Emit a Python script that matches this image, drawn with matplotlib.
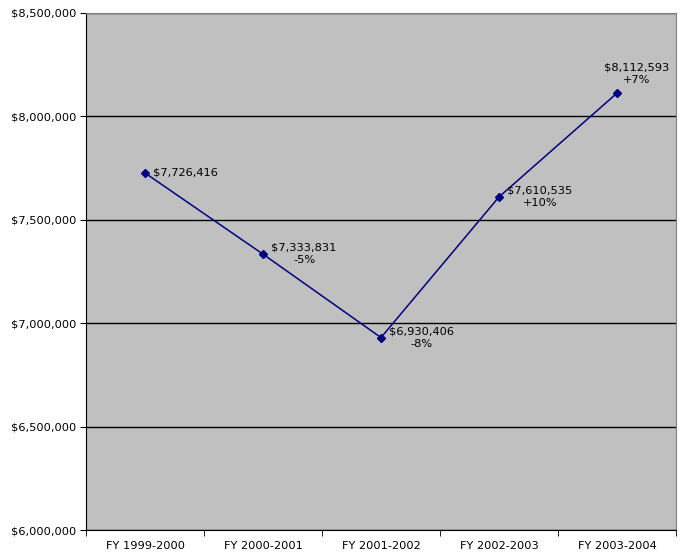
import matplotlib
matplotlib.use("Agg")
from matplotlib import pyplot as plt
from matplotlib.ticker import FuncFormatter

# data
years = ["FY 1999-2000", "FY 2000-2001", "FY 2001-2002", "FY 2002-2003", "FY 2003-2004"]
totals = [7726416, 7333831, 6930406, 7610535, 8112593]
changes = ["", "-5%", "-8%", "+10%", "+7%"]

fig = plt.figure(figsize=(6.81, 5.52), dpi=100)
ax = fig.add_axes([86/681, 22/552, 590/681, 517/552])
ax.set_facecolor("#C0C0C0")

x = list(range(len(years)))
ax.plot(x, totals, color="#000080", lw=1.1, marker="D", ms=4.5, zorder=3)

# value labels
offsets = [(6, 0), (6, 0), (6, 0), (6, 0), (14, 14)]
for i, (v, c) in enumerate(zip(totals, changes)):
    txt = f"${v:,.0f}" + (f"\n{c}" if c else "")
    ax.annotate(txt, (i, v), xytext=offsets[i], textcoords="offset points",
                ha="left" if i < 4 else "center", va="center",
                multialignment="center", fontsize=8.2, color="#000000",
                linespacing=1.3)

ax.set_xlim(-0.5, 4.5)
ax.set_ylim(6000000, 8500000)
ax.set_yticks(range(6000000, 8500001, 500000))
ax.yaxis.set_major_formatter(FuncFormatter(lambda v, p: f"${v:,.0f}"))
ax.set_xticks(x)
ax.set_xticklabels(years)
ax.set_xticks([i - 0.5 for i in range(6)], minor=True)
ax.tick_params(axis="x", which="major", length=0, pad=8, labelsize=8.2)
ax.tick_params(axis="x", which="minor", length=4, direction="out")
ax.tick_params(axis="y", length=4, direction="out", labelsize=8.2, pad=3)

ax.grid(axis="y", color="black", lw=1)
ax.set_axisbelow(True)
for s in ["top", "right"]:
    ax.spines[s].set_color("#808080")
for s in ["left", "bottom"]:
    ax.spines[s].set_color("black")

fig.savefig("out.png", dpi=100)
